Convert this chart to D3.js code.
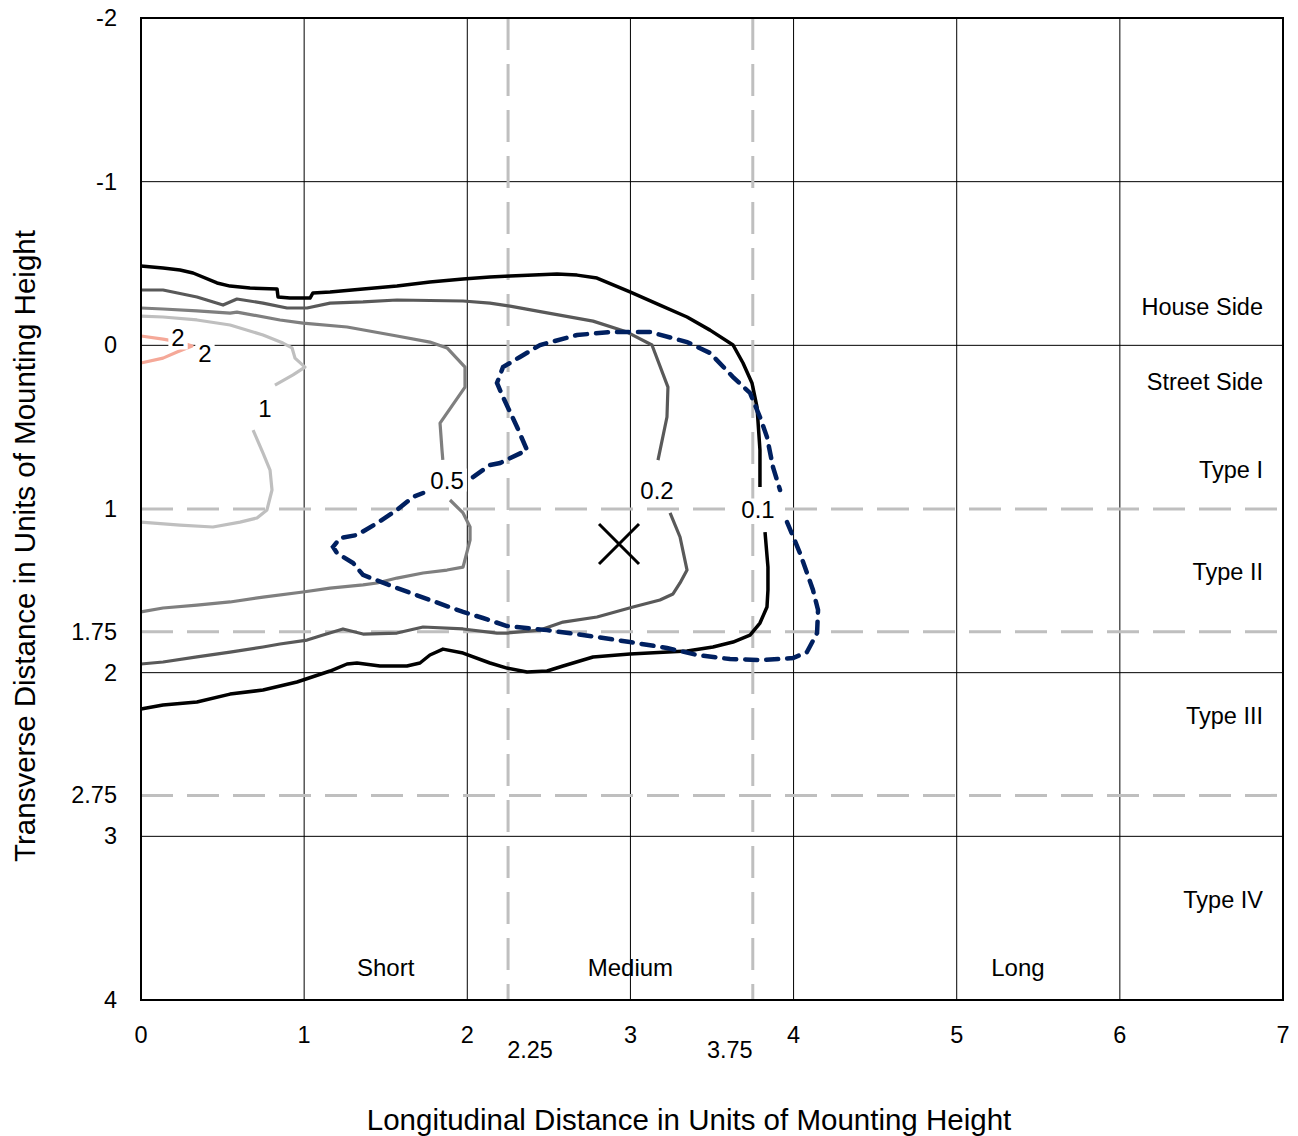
<!DOCTYPE html>
<html><head><meta charset="utf-8">
<script src="https://cdn.jsdelivr.net/npm/d3@7"></script>
<style>body{margin:0;background:#fff} text{font-family:"Liberation Sans",Arial,sans-serif;fill:#000}</style>
</head><body><svg id="c" width="1298" height="1136"></svg>
<script>
// ---- axis / grid values ----
const xTicks=[0,1,2,3,4,5,6,7];
const xExtraTicks=[2.25,3.75];
const yTicks=[-2,-1,0,1,1.75,2,2.75,3,4];
const xGridSolid=[1,2,3,4,5,6];
const yGridSolid=[-1,0,2,3];
const xGridDashed=[2.25,3.75];
const yGridDashed=[1,1.75,2.75];

// ---- contour lines (data units, null = gap) ----
const contour01=[[0,-0.485],[0.135,-0.472],[0.239,-0.460],[0.319,-0.442],[0.466,-0.381],[0.546,-0.362],[0.668,-0.350],[0.834,-0.344],[0.840,-0.295],[0.913,-0.289],[1.036,-0.289],[1.054,-0.320],[1.159,-0.326],[1.361,-0.344],[1.569,-0.362],[1.771,-0.387],[1.974,-0.405],[2.139,-0.417],[2.262,-0.423],[2.550,-0.436],[2.673,-0.429],[2.795,-0.411],[2.997,-0.326],[3.181,-0.246],[3.347,-0.173],[3.488,-0.093],[3.629,-0.002],[3.690,0.108],[3.745,0.230],[3.776,0.377],[3.794,0.640],[3.794,0.866],null,[3.825,1.141],[3.843,1.355],[3.843,1.495],[3.837,1.599],[3.794,1.697],[3.733,1.770],[3.629,1.813],[3.506,1.843],[3.347,1.868],[2.997,1.886],[2.771,1.904],[2.587,1.959],[2.489,1.990],[2.366,1.996],[2.243,1.972],[2.139,1.941],[1.974,1.880],[1.851,1.856],[1.771,1.892],[1.710,1.941],[1.630,1.959],[1.465,1.959],[1.324,1.941],[1.263,1.947],[1.159,1.990],[0.956,2.057],[0.748,2.106],[0.546,2.131],[0.343,2.179],[0.135,2.198],[0,2.222]];
const contour02=[[0,-0.338],[0.135,-0.338],[0.343,-0.295],[0.503,-0.246],[0.588,-0.283],[0.748,-0.258],[0.895,-0.228],[1.018,-0.228],[1.159,-0.258],[1.361,-0.265],[1.569,-0.277],[1.974,-0.271],[2.139,-0.258],[2.262,-0.240],[2.464,-0.203],[2.771,-0.148],[2.979,-0.081],[3.132,-0.002],[3.230,0.255],[3.224,0.438],[3.169,0.701],null,[3.243,1.024],[3.304,1.171],[3.347,1.373],[3.304,1.452],[3.261,1.519],[3.181,1.556],[3.016,1.599],[2.795,1.660],[2.587,1.691],[2.446,1.740],[2.243,1.758],[2.182,1.758],[1.974,1.733],[1.729,1.721],[1.569,1.758],[1.361,1.764],[1.238,1.733],[1.116,1.770],[1.018,1.801],[0.852,1.825],[0.748,1.843],[0.546,1.874],[0.343,1.904],[0.135,1.935],[0,1.947]];
const contour05=[[0,-0.228],[0.135,-0.222],[0.343,-0.210],[0.546,-0.197],[0.588,-0.203],[0.852,-0.155],[0.993,-0.136],[1.263,-0.112],[1.569,-0.057],[1.771,-0.020],[1.876,0.016],[1.986,0.133],[1.986,0.255],[1.833,0.475],[1.845,0.640],[1.850,0.700],null,[1.894,0.945],[1.974,1.024],[2.017,1.110],[2.017,1.190],[1.974,1.355],[1.876,1.373],[1.729,1.391],[1.569,1.422],[1.447,1.452],[1.361,1.464],[1.159,1.483],[0.993,1.507],[0.748,1.538],[0.546,1.568],[0.343,1.587],[0.135,1.605],[0,1.629]];
const contour1=[[0,-0.179],[0.135,-0.173],[0.343,-0.155],[0.546,-0.124],[0.748,-0.063],[0.870,-0.014],[0.926,0.016],[0.944,0.078],[1.005,0.133],[0.932,0.181],[0.821,0.243],null,[0.687,0.518],[0.748,0.658],[0.791,0.762],[0.803,0.884],[0.772,1.006],[0.711,1.055],[0.607,1.080],[0.441,1.110],[0.239,1.098],[0,1.080]];
const contour2=[[0,-0.057],[0.135,-0.038],[0.239,-0.020],[0.313,0.004],[0.221,0.041],[0.135,0.078],[0,0.108]];
const dashedContour=[[2.035,0.805],[2.139,0.731],[2.201,0.719],[2.366,0.640],[2.305,0.499],[2.219,0.316],[2.182,0.230],[2.219,0.133],[2.323,0.071],[2.446,-0.002],[2.673,-0.063],[2.875,-0.081],[3.120,-0.081],[3.347,-0.020],[3.488,0.047],[3.629,0.194],[3.733,0.291],[3.794,0.438],[3.837,0.560],[3.874,0.744],[3.917,0.884],null,[3.960,1.080],[4.039,1.269],[4.119,1.495],[4.150,1.617],[4.144,1.758],[4.082,1.874],[3.997,1.911],[3.813,1.923],[3.610,1.917],[3.408,1.892],[3.224,1.849],[2.997,1.813],[2.795,1.782],[2.489,1.740],[2.243,1.715],[2.096,1.666],[1.974,1.629],[1.771,1.556],[1.569,1.483],[1.361,1.403],[1.300,1.330],[1.201,1.269],[1.177,1.232],[1.220,1.177],[1.324,1.159],[1.447,1.086],[1.569,1.006],[1.667,0.927],[1.729,0.902]];

// ---- annotations ----
const contourLabels=[{t:"2",x:0.227,y:-0.045},{t:"2",x:0.392,y:0.047},{t:"1",x:0.760,y:0.383},{t:"0.5",x:1.876,y:0.823},{t:"0.2",x:3.163,y:0.884},{t:"0.1",x:3.782,y:1.006}];
const markerPoint=[2.93,1.214];
const sideLabels=[{t:"House Side",y:-0.234},{t:"Street Side",y:0.224},{t:"Type I",y:0.762},{t:"Type II",y:1.385},{t:"Type III",y:2.265},{t:"Type IV",y:3.39}];
const distLabels=[{t:"Short",x:1.5},{t:"Medium",x:3.0},{t:"Long",x:5.375}];
const distLabelY=3.80;
const xTitle="Longitudinal Distance in Units of Mounting Height";
const yTitle="Transverse Distance in Units of Mounting Height";

const L=141,R=1283,T=18,B=1000;
const x=d3.scaleLinear().domain([0,7]).range([L,R]);
const y=d3.scaleLinear().domain([-2,4]).range([T,B]);
const svg=d3.select("#c");

// solid grid
svg.append("g").selectAll("line").data(xGridSolid).join("line")
  .attr("x1",d=>x(d)).attr("x2",d=>x(d)).attr("y1",T).attr("y2",B).attr("stroke","#000").attr("stroke-width",1);
svg.append("g").selectAll("line").data(yGridSolid).join("line")
  .attr("y1",d=>y(d)).attr("y2",d=>y(d)).attr("x1",L).attr("x2",R).attr("stroke","#000").attr("stroke-width",1);
// dashed grid
svg.append("g").selectAll("line").data(xGridDashed).join("line")
  .attr("x1",d=>x(d)).attr("x2",d=>x(d)).attr("y1",T).attr("y2",B)
  .attr("stroke","#bfbfbf").attr("stroke-width",3).attr("stroke-dasharray","32,14");
svg.append("g").selectAll("line").data(yGridDashed).join("line")
  .attr("y1",d=>y(d)).attr("y2",d=>y(d)).attr("x1",L).attr("x2",R)
  .attr("stroke","#bfbfbf").attr("stroke-width",3).attr("stroke-dasharray","32,14");

const line=d3.line().defined(d=>d!==null).x(d=>x(d[0])).y(d=>y(d[1]));
const series=[
  {d:contour2,c:"#f5a898",w:3.2},
  {d:contour1,c:"#bfbfbf",w:3.2},
  {d:contour05,c:"#7f7f7f",w:3.2},
  {d:contour02,c:"#595959",w:3.2},
  {d:contour01,c:"#000000",w:3.5}
];
series.forEach(s=>svg.append("path").attr("d",line(s.d)).attr("fill","none")
  .attr("stroke",s.c).attr("stroke-width",s.w).attr("stroke-linejoin","round"));
svg.append("path").attr("d",line(dashedContour)).attr("fill","none")
  .attr("stroke","#002060").attr("stroke-width",4.5).attr("stroke-dasharray","12,9").attr("stroke-linecap","round");

// X marker
const mx=x(markerPoint[0]),my=y(markerPoint[1]),ms=20;
svg.append("path").attr("d",`M${mx-ms},${my-ms}L${mx+ms},${my+ms}M${mx-ms},${my+ms}L${mx+ms},${my-ms}`)
  .attr("stroke","#000").attr("stroke-width",3);

// contour labels with white background
contourLabels.forEach(l=>{
  const g=svg.append("g");
  const t=g.append("text").attr("x",x(l.x)).attr("y",y(l.y)).attr("text-anchor","middle")
    .attr("dominant-baseline","central").attr("font-size",24).text(l.t);
  const b=t.node().getBBox();
  g.insert("rect","text").attr("x",b.x-3).attr("y",b.y+2).attr("width",b.width+6).attr("height",b.height-4).attr("fill","#fff");
});

// side labels
svg.append("g").selectAll("text").data(sideLabels).join("text")
  .attr("x",R-20).attr("y",d=>y(d.y)).attr("text-anchor","end").attr("dominant-baseline","central")
  .attr("font-size",23.5).text(d=>d.t);
svg.append("g").selectAll("text").data(distLabels).join("text")
  .attr("x",d=>x(d.x)).attr("y",y(distLabelY)).attr("text-anchor","middle").attr("dominant-baseline","central")
  .attr("font-size",24).text(d=>d.t);

// border
svg.append("rect").attr("x",L).attr("y",T).attr("width",R-L).attr("height",B-T)
  .attr("fill","none").attr("stroke","#000").attr("stroke-width",2);

// axis tick labels
svg.append("g").selectAll("text").data(xTicks).join("text")
  .attr("x",d=>x(d)).attr("y",B+35).attr("text-anchor","middle").attr("dominant-baseline","central")
  .attr("font-size",23.5).text(d=>d);
svg.append("g").selectAll("text").data(xExtraTicks).join("text")
  .attr("x",(d,i)=>x(d)+(i===0?22:-23)).attr("y",B+50).attr("text-anchor","middle").attr("dominant-baseline","central")
  .attr("font-size",23.5).text(d=>d);
svg.append("g").selectAll("text").data(yTicks).join("text")
  .attr("x",L-24).attr("y",d=>y(d)).attr("text-anchor","end").attr("dominant-baseline","central")
  .attr("font-size",23.5).text(d=>d);

// titles
svg.append("text").attr("x",689).attr("y",1119).attr("text-anchor","middle").attr("dominant-baseline","central")
  .attr("font-size",29.5).text(xTitle);
svg.append("text").attr("transform",`translate(24,546) rotate(-90)`).attr("text-anchor","middle")
  .attr("dominant-baseline","central").attr("font-size",29.5).text(yTitle);
</script></body></html>
